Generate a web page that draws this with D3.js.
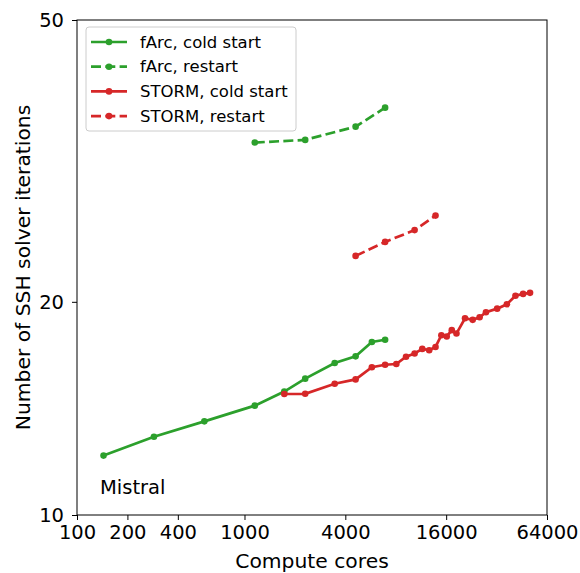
<!DOCTYPE html>
<meta charset="utf-8">
<style>
body { margin: 0; background: #fff; }
svg text { font-family: "DejaVu Sans", sans-serif; fill: #000; }
.axis path, .axis line { stroke: #000; }
</style>
<svg width="580" height="573"></svg>
<script src="https://d3js.org/d3.v7.min.js"></script>
<script>

// data
var farcColdCores = [144, 288, 576, 1152, 1728, 2304, 3456, 4608, 5760, 6912];
var farcColdIters = [12.13, 12.9, 13.56, 14.27, 14.94, 15.58, 16.39, 16.75, 17.55, 17.68];

var farcRestartCores = [1152, 2304, 4608, 6912];
var farcRestartIters = [33.57, 33.86, 35.35, 37.6];

var stormColdCores = [1728, 2304, 3456, 4608, 5760, 6912, 8064, 9216, 10368, 11520, 12672, 13824,
                      14976, 16128, 17280, 18432, 20736, 23040, 25344, 27648, 32256, 36864, 41472, 46080, 50688];
var stormColdIters = [14.82, 14.83, 15.32, 15.54, 16.17, 16.3, 16.34, 16.73, 16.91, 17.16, 17.09, 17.27,
                      17.94, 17.87, 18.24, 18.04, 18.96, 18.86, 19.02, 19.33, 19.56, 19.84, 20.4, 20.52, 20.59];

var stormRestartCores = [4608, 6912, 10368, 13824];
var stormRestartIters = [23.22, 24.3, 25.25, 26.47];

var xTicks = [100, 200, 400, 1000, 4000, 16000, 64000];
var yTicks = [10, 20, 50];

var series = [
  {name: "fArc, cold start", color: "#2ca02c", dashed: false, cores: farcColdCores, iters: farcColdIters},
  {name: "fArc, restart", color: "#2ca02c", dashed: true, cores: farcRestartCores, iters: farcRestartIters},
  {name: "STORM, cold start", color: "#d62728", dashed: false, cores: stormColdCores, iters: stormColdIters},
  {name: "STORM, restart", color: "#d62728", dashed: true, cores: stormRestartCores, iters: stormRestartIters}
];

var svg = d3.select("svg"),
    margin = {top: 20, right: 33, bottom: 58, left: 77},
    width = +svg.attr("width") - margin.left - margin.right,
    height = +svg.attr("height") - margin.top - margin.bottom;

var x = d3.scaleLog().domain([100, 64000]).range([0, width]),
    y = d3.scaleLog().domain([10, 50]).range([height, 0]);

var g = svg.append("g")
    .attr("transform", "translate(" + margin.left + "," + margin.top + ")");

g.append("g")
    .attr("class", "axis")
    .attr("transform", "translate(0," + height + ")")
    .call(d3.axisBottom(x).tickValues(xTicks).tickFormat(d3.format("d")).tickSizeOuter(0).tickSize(5).tickPadding(5))
    .call(function(a) { a.select(".domain").remove(); })
    .selectAll("text").style("font-size", "19.5px");

g.append("g")
    .attr("class", "axis")
    .call(d3.axisLeft(y).tickValues(yTicks).tickFormat(d3.format("d")).tickSizeOuter(0).tickSize(5).tickPadding(8))
    .call(function(a) { a.select(".domain").remove(); })
    .selectAll("text").style("font-size", "19.5px");

g.append("rect")
    .attr("width", width)
    .attr("height", height)
    .attr("fill", "none")
    .attr("stroke", "#000")
    .attr("stroke-width", 1);

var line = d3.line()
    .x(function(d) { return x(d[0]); })
    .y(function(d) { return y(d[1]); });

series.forEach(function(s) {
  var pts = s.cores.map(function(c, i) { return [c, s.iters[i]]; });
  g.append("path")
      .datum(pts)
      .attr("d", line)
      .attr("fill", "none")
      .attr("stroke", s.color)
      .attr("stroke-width", 2.7)
      .attr("stroke-dasharray", s.dashed ? "10,4.3" : null);
  g.selectAll(null)
    .data(pts)
    .enter().append("circle")
      .attr("cx", function(d) { return x(d[0]); })
      .attr("cy", function(d) { return y(d[1]); })
      .attr("r", 3.3)
      .attr("fill", s.color);
});

g.append("text")
    .attr("x", 23)
    .attr("y", 474)
    .style("font-size", "19.5px")
    .text("Mistral");

// axis labels
svg.append("text")
    .attr("x", margin.left + width / 2)
    .attr("y", 568)
    .attr("text-anchor", "middle")
    .style("font-size", "20.3px")
    .text("Compute cores");

svg.append("text")
    .attr("transform", "translate(30," + (margin.top + height / 2) + ") rotate(-90)")
    .attr("text-anchor", "middle")
    .style("font-size", "20.3px")
    .text("Number of SSH solver iterations");

// legend
var lg = svg.append("g").attr("transform", "translate(86,27)");
lg.append("rect")
    .attr("width", 210)
    .attr("height", 104)
    .attr("rx", 3)
    .attr("fill", "#fff")
    .attr("fill-opacity", 0.8)
    .attr("stroke", "#ccc");

series.forEach(function(s, i) {
  var cy = 15 + i * 24.7;
  lg.append("line")
      .attr("x1", 5).attr("x2", 41)
      .attr("y1", cy).attr("y2", cy)
      .attr("stroke", s.color)
      .attr("stroke-width", 2.7)
      .attr("stroke-dasharray", s.dashed ? "10,4.3" : null);
  lg.append("circle")
      .attr("cx", 23).attr("cy", cy).attr("r", 3.3)
      .attr("fill", s.color);
  lg.append("text")
      .attr("x", 54)
      .attr("y", cy)
      .attr("dy", "0.35em")
      .style("font-size", "16.5px")
      .text(s.name);
});

</script>
